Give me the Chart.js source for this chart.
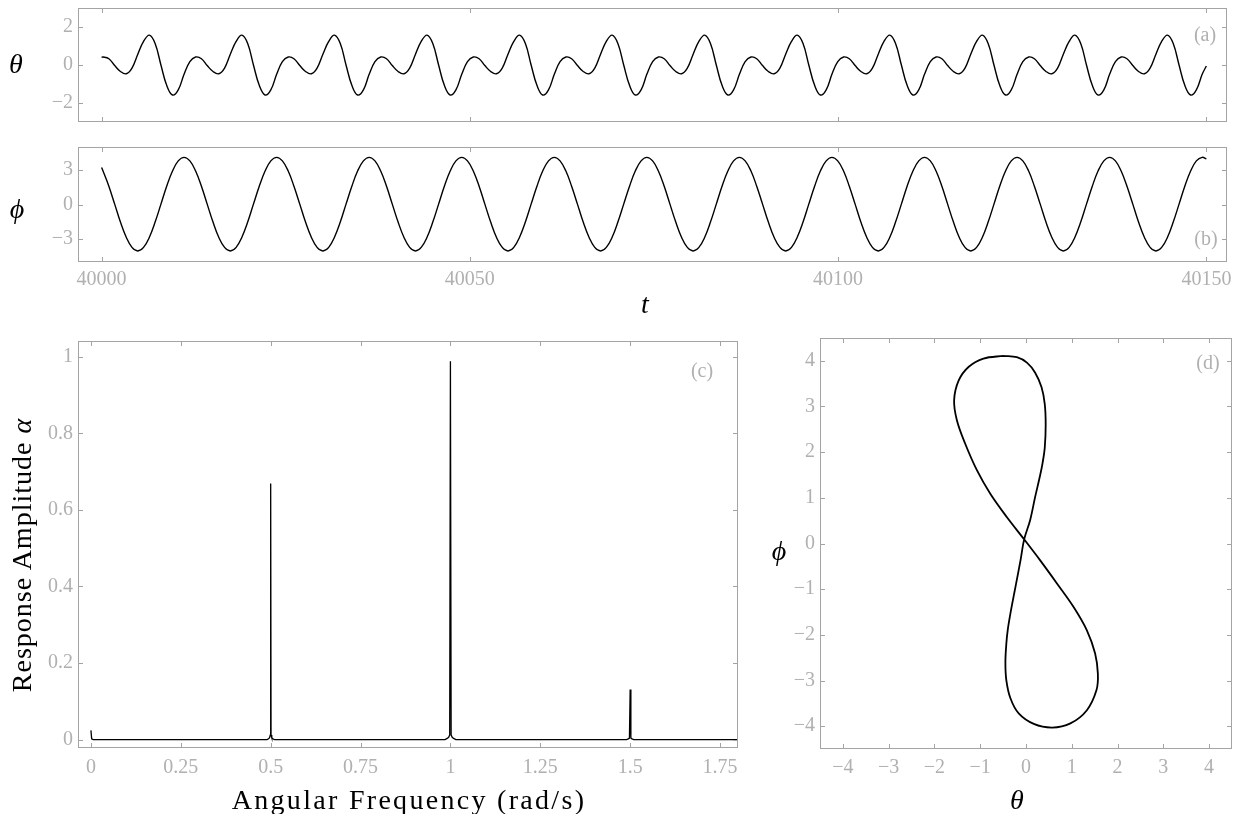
<!DOCTYPE html>
<html>
<head>
<meta charset="utf-8">
<script src="https://cdn.jsdelivr.net/npm/chart.js@4.4.0/dist/chart.umd.min.js"></script>
<style>
body { margin: 0; background: #fff; }
#wrap { position: relative; width: 1241px; height: 814px; overflow: hidden; }
canvas { position: absolute; }
.lbl { position: absolute; font-family: 'Liberation Serif', 'DejaVu Serif', serif; color: #000; white-space: nowrap; transform: translate(-50%, -50%); }
.math { font-style: italic; font-size: 28px; }
.tag { color: #b0b0b0; font-size: 20px; }
.big { font-size: 28px; }
.warm { position: absolute; left: -200px; top: -200px; font-family: 'Liberation Serif'; font-size: 20px; }
</style>
</head>
<body>
<div class="warm">0123456789.−</div>
<div id="wrap">
  <canvas id="chartA" width="1241" height="130" style="left:0;top:0"></canvas>
  <canvas id="chartB" width="1241" height="162" style="left:0;top:139px"></canvas>
  <canvas id="chartC" width="760" height="460" style="left:0;top:330px"></canvas>
  <canvas id="chartD" width="471" height="486" style="left:770px;top:328px"></canvas>

  <div class="lbl math" style="left:16px;top:64px">θ</div>
  <div class="lbl math" style="left:17px;top:209px">ϕ</div>
  <div class="lbl math" style="left:645px;top:304px">t</div>
  <div class="lbl big" style="left:22px;top:555px;transform:translate(-50%,-50%) rotate(-90deg);letter-spacing:1px">Response Amplitude <i>α</i></div>
  <div class="lbl big" style="left:409px;top:800px;letter-spacing:2.3px">Angular Frequency (rad/s)</div>
  <div class="lbl math" style="left:779px;top:551px">ϕ</div>
  <div class="lbl math" style="left:1017px;top:800px">θ</div>

  <div class="lbl tag" style="left:1205px;top:34px">(a)</div>
  <div class="lbl tag" style="left:1206px;top:238px">(b)</div>
  <div class="lbl tag" style="left:702px;top:370px">(c)</div>
  <div class="lbl tag" style="left:1208px;top:362px">(d)</div>
</div>
<script>
// time series (a) and (b)
const tValues = [
  40000.00,
  40000.20, 40000.99, 40001.78, 40002.56, 40003.35, 40004.13, 40004.92, 40005.70, 40006.49, 40007.27, 40008.06, 40008.84, 40009.63, 40010.41,
  40011.20, 40011.99, 40012.77, 40013.56, 40014.34, 40015.13, 40015.91, 40016.70, 40017.48, 40018.27, 40019.05, 40019.84, 40020.62, 40021.41, 40022.20, 40022.98,
  40023.77, 40024.55, 40025.34, 40026.12, 40026.91, 40027.69, 40028.48, 40029.26, 40030.05, 40030.84, 40031.62, 40032.41, 40033.19, 40033.98, 40034.76, 40035.55,
  40036.33, 40037.12, 40037.90, 40038.69, 40039.47, 40040.26, 40041.05, 40041.83, 40042.62, 40043.40, 40044.19, 40044.97, 40045.76, 40046.54, 40047.33, 40048.11,
  40048.90, 40049.68, 40050.47, 40051.26, 40052.04, 40052.83, 40053.61, 40054.40, 40055.18, 40055.97, 40056.75, 40057.54, 40058.32, 40059.11, 40059.89, 40060.68,
  40061.47, 40062.25, 40063.04, 40063.82, 40064.61, 40065.39, 40066.18, 40066.96, 40067.75, 40068.53, 40069.32, 40070.10, 40070.89, 40071.68, 40072.46, 40073.25,
  40074.03, 40074.82, 40075.60, 40076.39, 40077.17, 40077.96, 40078.74, 40079.53, 40080.32, 40081.10, 40081.89, 40082.67, 40083.46, 40084.24, 40085.03, 40085.81,
  40086.60, 40087.38, 40088.17, 40088.95, 40089.74, 40090.53, 40091.31, 40092.10, 40092.88, 40093.67, 40094.45, 40095.24, 40096.02, 40096.81, 40097.59, 40098.38,
  40099.16, 40099.95, 40100.74, 40101.52, 40102.31, 40103.09, 40103.88, 40104.66, 40105.45, 40106.23, 40107.02, 40107.80, 40108.59, 40109.37, 40110.16, 40110.95,
  40111.73, 40112.52, 40113.30, 40114.09, 40114.87, 40115.66, 40116.44, 40117.23, 40118.01, 40118.80, 40119.59, 40120.37, 40121.16, 40121.94, 40122.73, 40123.51,
  40124.30, 40125.08, 40125.87, 40126.65, 40127.44, 40128.22, 40129.01, 40129.80, 40130.58, 40131.37, 40132.15, 40132.94, 40133.72, 40134.51, 40135.29, 40136.08,
  40136.86, 40137.65, 40138.43, 40139.22, 40140.01, 40140.79, 40141.58, 40142.36, 40143.15, 40143.93, 40144.72, 40145.50, 40146.29, 40147.07, 40147.86, 40148.64,
  40149.43,
  40150.00
];

const thetaValues = [
  0.40,
  0.42, 0.33, -0.03, -0.34, -0.46, -0.16, 0.57, 1.24, 1.57, 1.13, 0.00, -1.07, -1.58, -1.31,
  -0.49, 0.18, 0.42, 0.33, -0.03, -0.34, -0.46, -0.16, 0.57, 1.24, 1.57, 1.13, 0.00, -1.07, -1.58, -1.31,
  -0.49, 0.18, 0.42, 0.33, -0.03, -0.34, -0.46, -0.16, 0.57, 1.24, 1.57, 1.13, 0.00, -1.07, -1.58, -1.31,
  -0.49, 0.18, 0.42, 0.33, -0.03, -0.34, -0.46, -0.16, 0.57, 1.24, 1.57, 1.13, 0.00, -1.07, -1.58, -1.31,
  -0.49, 0.18, 0.42, 0.33, -0.03, -0.34, -0.46, -0.16, 0.57, 1.24, 1.57, 1.13, 0.00, -1.07, -1.58, -1.31,
  -0.49, 0.18, 0.42, 0.33, -0.03, -0.34, -0.46, -0.16, 0.57, 1.24, 1.57, 1.13, 0.00, -1.07, -1.58, -1.31,
  -0.49, 0.18, 0.42, 0.33, -0.03, -0.34, -0.46, -0.16, 0.57, 1.24, 1.57, 1.13, 0.00, -1.07, -1.58, -1.31,
  -0.49, 0.18, 0.42, 0.33, -0.03, -0.34, -0.46, -0.16, 0.57, 1.24, 1.57, 1.13, 0.00, -1.07, -1.58, -1.31,
  -0.49, 0.18, 0.42, 0.33, -0.03, -0.34, -0.46, -0.16, 0.57, 1.24, 1.57, 1.13, 0.00, -1.07, -1.58, -1.31,
  -0.49, 0.18, 0.42, 0.33, -0.03, -0.34, -0.46, -0.16, 0.57, 1.24, 1.57, 1.13, 0.00, -1.07, -1.58, -1.31,
  -0.49, 0.18, 0.42, 0.33, -0.03, -0.34, -0.46, -0.16, 0.57, 1.24, 1.57, 1.13, 0.00, -1.07, -1.58, -1.31,
  -0.49, 0.18, 0.42, 0.33, -0.03, -0.34, -0.46, -0.16, 0.57, 1.24, 1.57, 1.13, 0.00, -1.07, -1.58, -1.31,
  -0.49,
  -0.05
];

const phiValues = [
  3.22,
  2.91, 1.59, 0.03, -1.53, -2.85, -3.73, -4.04, -3.73, -2.85, -1.53, 0.03, 1.59, 2.91, 3.79,
  4.10, 3.79, 2.91, 1.59, 0.03, -1.53, -2.85, -3.73, -4.04, -3.73, -2.85, -1.53, 0.03, 1.59, 2.91, 3.79,
  4.10, 3.79, 2.91, 1.59, 0.03, -1.53, -2.85, -3.73, -4.04, -3.73, -2.85, -1.53, 0.03, 1.59, 2.91, 3.79,
  4.10, 3.79, 2.91, 1.59, 0.03, -1.53, -2.85, -3.73, -4.04, -3.73, -2.85, -1.53, 0.03, 1.59, 2.91, 3.79,
  4.10, 3.79, 2.91, 1.59, 0.03, -1.53, -2.85, -3.73, -4.04, -3.73, -2.85, -1.53, 0.03, 1.59, 2.91, 3.79,
  4.10, 3.79, 2.91, 1.59, 0.03, -1.53, -2.85, -3.73, -4.04, -3.73, -2.85, -1.53, 0.03, 1.59, 2.91, 3.79,
  4.10, 3.79, 2.91, 1.59, 0.03, -1.53, -2.85, -3.73, -4.04, -3.73, -2.85, -1.53, 0.03, 1.59, 2.91, 3.79,
  4.10, 3.79, 2.91, 1.59, 0.03, -1.53, -2.85, -3.73, -4.04, -3.73, -2.85, -1.53, 0.03, 1.59, 2.91, 3.79,
  4.10, 3.79, 2.91, 1.59, 0.03, -1.53, -2.85, -3.73, -4.04, -3.73, -2.85, -1.53, 0.03, 1.59, 2.91, 3.79,
  4.10, 3.79, 2.91, 1.59, 0.03, -1.53, -2.85, -3.73, -4.04, -3.73, -2.85, -1.53, 0.03, 1.59, 2.91, 3.79,
  4.10, 3.79, 2.91, 1.59, 0.03, -1.53, -2.85, -3.73, -4.04, -3.73, -2.85, -1.53, 0.03, 1.59, 2.91, 3.79,
  4.10, 3.79, 2.91, 1.59, 0.03, -1.53, -2.85, -3.73, -4.04, -3.73, -2.85, -1.53, 0.03, 1.59, 2.91, 3.79,
  4.10,
  3.97
];

// spectrum (c)
const freqValues = [0, 0.002, 0.006, 0.49, 0.494, 0.497, 0.499, 0.5, 0.501, 0.503, 0.506, 0.51,
  0.985, 0.991, 0.995, 0.998, 1.0, 1.002, 1.005, 1.009, 1.015,
  1.49, 1.495, 1.498, 1.5, 1.502, 1.505, 1.51, 1.8];
const ampValues = [0.024, 0.002, 0, 0, 0.002, 0.005, 0.012, 0.669, 0.012, 0.005, 0.002, 0,
  0, 0.003, 0.006, 0.012, 0.988, 0.012, 0.006, 0.003, 0,
  0, 0.002, 0.004, 0.131, 0.004, 0.002, 0, 0];

// phase portrait (d)
const loopTheta = [-0.49, -0.20, 0.02, 0.20, 0.34, 0.41, 0.43, 0.41, 0.36, 0.31, 0.20, 0.09, -0.04, -0.12, -0.23, -0.34, -0.40, -0.43, -0.45, -0.43, -0.34, -0.16, 0.17, 0.57, 0.97, 1.33, 1.54, 1.57, 1.51, 1.33, 1.04, 0.68, 0.31, -0.04, -0.42, -0.78, -1.07, -1.33, -1.51, -1.57, -1.47, -1.25, -0.93, -0.49];
const loopPhi = [4.11, 4.08, 3.96, 3.74, 3.42, 3.05, 2.60, 2.10, 1.75, 1.50, 1.02, 0.51, 0.09, -0.37, -0.95, -1.53, -1.90, -2.20, -2.60, -2.99, -3.39, -3.72, -3.95, -4.03, -3.94, -3.65, -3.21, -2.85, -2.41, -1.90, -1.39, -0.88, -0.37, 0.09, 0.58, 1.09, 1.60, 2.19, 2.70, 3.14, 3.57, 3.87, 4.05, 4.11];

// ticks
const timeTicks = [40000, 40050, 40100, 40150];
const thetaTicks = [-2, 0, 2];
const phiTicks = [-3, 0, 3];
const freqTicks = [0, 0.25, 0.5, 0.75, 1, 1.25, 1.5, 1.75];
const ampTicks = [0, 0.2, 0.4, 0.6, 0.8, 1];
const portraitTicks = [-4, -3, -2, -1, 0, 1, 2, 3, 4];

const frameColor = '#a4a4a4';
const labelColor = '#b0b0b0';
const tickFont = { family: 'Liberation Serif', size: 20 };
Chart.defaults.font.family = 'Liberation Serif';

const fmt = v => String(v).replace('-', '\u2212');

// frame plus inward tick marks on all four sides
const frameTicks = {
  id: 'frameTicks',
  afterDraw(chart) {
    const { ctx, chartArea: a, scales } = chart;
    ctx.save();
    ctx.strokeStyle = frameColor;
    ctx.lineWidth = 1;
    ctx.strokeRect(a.left + 0.5, a.top + 0.5, a.right - a.left - 1, a.bottom - a.top - 1);
    ctx.beginPath();
    scales.x.ticks.forEach(t => {
      const px = Math.round(scales.x.getPixelForValue(t.value)) + 0.5;
      ctx.moveTo(px, a.top); ctx.lineTo(px, a.top + 5);
      ctx.moveTo(px, a.bottom); ctx.lineTo(px, a.bottom - 5);
    });
    scales.y.ticks.forEach(t => {
      const py = Math.round(scales.y.getPixelForValue(t.value)) + 0.5;
      ctx.moveTo(a.left, py); ctx.lineTo(a.left + 5, py);
      ctx.moveTo(a.right, py); ctx.lineTo(a.right - 5, py);
    });
    ctx.stroke();
    ctx.restore();
  }
};

function axis(min, max, ticks, showLabels, size, pad, isX) {
  return {
    type: 'linear',
    min: min,
    max: max,
    grid: { display: false, drawTicks: false },
    border: { display: false },
    ticks: { display: showLabels, color: labelColor, font: tickFont, padding: pad, maxRotation: 0, autoSkip: false, callback: v => fmt(v) },
    afterBuildTicks: s => { s.ticks = ticks.map(v => ({ value: v })); },
    afterFit: s => {
      if (isX) s.height = size; else s.width = size;
      s.paddingTop = 0; s.paddingBottom = 0; s.paddingLeft = 0; s.paddingRight = 0;
    }
  };
}

function makeChart(id, points, lineWidth, tension, x, y, padding) {
  return new Chart(document.getElementById(id), {
    type: 'line',
    data: {
      datasets: [{
        data: points,
        borderColor: '#000',
        borderWidth: lineWidth,
        pointRadius: 0,
        tension: tension,
        fill: false
      }]
    },
    options: {
      responsive: false,
      animation: false,
      devicePixelRatio: 1,
      layout: { padding: padding },
      plugins: { legend: { display: false }, tooltip: { enabled: false } },
      scales: { x: x, y: y }
    },
    plugins: [frameTicks]
  });
}

const thetaPoints = tValues.map((t, i) => ({ x: t, y: thetaValues[i] }));
const phiPoints = tValues.map((t, i) => ({ x: t, y: phiValues[i] }));
const specPoints = freqValues.map((f, i) => ({ x: f, y: ampValues[i] }));
const loopPoints = loopTheta.map((th, i) => ({ x: th, y: loopPhi[i] }));

const charts = [];
charts.push(makeChart('chartA', thetaPoints, 1.4, 0.4,
  axis(39996.8, 40152.8, timeTicks, false, 8, 0, true),
  axis(-3, 3, thetaTicks, true, 78, 5, false),
  { left: 0, top: 8, right: 14, bottom: 0 }));

charts.push(makeChart('chartB', phiPoints, 1.4, 0.4,
  axis(39996.8, 40152.8, timeTicks, true, 39, 6, true),
  axis(-5, 5, phiTicks, true, 78, 5, false),
  { left: 0, top: 8, right: 14, bottom: 0 }));

charts.push(makeChart('chartC', specPoints, 1.3, 0,
  axis(-0.036, 1.8, freqTicks, true, 42, 8, true),
  axis(-0.022, 1.041, ampTicks, true, 78, 5, false),
  { left: 0, top: 11, right: 22, bottom: 0 }));

charts.push(makeChart('chartD', loopPoints, 1.8, 0.35,
  axis(-4.5, 4.5, portraitTicks, true, 65, 7, true),
  axis(-4.5, 4.5, portraitTicks, true, 50, 5, false),
  { left: 0, top: 10, right: 9, bottom: 0 }));

// redraw once the serif face is ready so the canvas tick labels use it
if (document.fonts && document.fonts.load) {
  document.fonts.load('20px "Liberation Serif"').then(() => charts.forEach(c => c.update('none')));
}
</script>
</body>
</html>
